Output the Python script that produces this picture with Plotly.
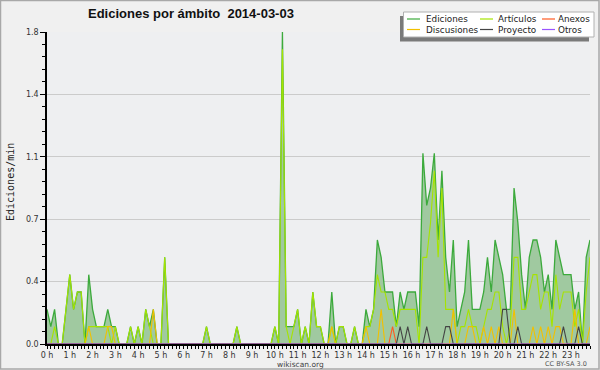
import plotly.graph_objects as go

# ---------------- data (edits per minute, 10-minute bins, 2014-03-03) ----------------
hour_labels = [f"{h} h" for h in range(24)]
hour_ticks = list(range(24))
times = [i / 6 for i in range(144)]  # hours of each 10-min bin

ediciones = [
    .2, .1, .2, 0, 0, .2, .4, .2, .3, .3,
    0, .4, .2, .1, .1, .1, .2, .1, .1, 0,
    0, 0, .1, 0, .1, 0, .2, .1, .2, 0,
    0, .5, 0, 0, 0, 0, 0, 0, 0, 0,
    0, 0, .1, 0, 0, 0, 0, 0, 0, 0,
    .1, 0, 0, 0, 0, 0, 0, 0, 0, 0,
    .1, 0, 1.8, .1, .1, .1, .2, 0, .1, 0,
    .3, .1, .1, 0, 0, .3, 0, .1, .1, 0,
    0, .1, 0, 0, .2, .1, .2, .6, .5, .3,
    .3, .3, .1, .3, .2, .3, .3, .3, .1, 1.1,
    .8, .9, 1.1, .6, 1.0, .5, .3, .6, .1, .2,
    .3, .6, .2, .2, .2, .3, .5, .3, .6, .5,
    .4, .2, .2, .9, .7, .4, .2, .5, .6, .6,
    .5, .3, .4, .2, .6, .5, .4, .4, .4, .2,
    .3, 0, .5, .6,
]

articulos = [
    0, 0, .1, 0, 0, .2, .4, .2, .3, .3,
    0, .1, .1, .1, .1, .1, .1, 0, .1, 0,
    0, 0, .1, 0, .1, 0, .2, .1, 0, 0,
    0, .5, 0, 0, 0, 0, 0, 0, 0, 0,
    0, 0, .1, 0, 0, 0, 0, 0, 0, 0,
    .1, 0, 0, 0, 0, 0, 0, 0, 0, 0,
    .1, 0, 1.7, .1, 0, .1, .2, 0, .1, 0,
    .3, .1, .1, 0, 0, .1, 0, .1, .1, 0,
    0, .1, 0, 0, .1, .1, .2, .4, .3, .3,
    .2, .2, .1, .2, .2, .2, .2, .2, 0, .5,
    .5, .7, 1.0, .5, .9, .2, .2, .2, 0, .1,
    .1, .2, .1, .1, 0, .1, .2, .2, .3, .3,
    .1, 0, .1, .5, .5, .2, .2, .3, .4, .4,
    .2, .3, .3, .1, .4, .2, .3, .3, .3, .1,
    .2, 0, .3, .5,
]

anexos = [0] * 91 + [.1] + [0] * 52

discusiones = [
    0, 0, 0, 0, 0, 0, 0, 0, 0, 0,
    0, .1, 0, 0, 0, 0, .1, .1, 0, 0,
    0, 0, 0, 0, 0, 0, 0, 0, .2, 0,
    0, 0, 0, 0, 0, 0, 0, 0, 0, 0,
    0, 0, 0, 0, 0, 0, 0, 0, 0, 0,
    0, 0, 0, 0, 0, 0, 0, 0, 0, 0,
    0, 0, 0, 0, 0, 0, 0, 0, 0, 0,
    0, 0, 0, 0, 0, .1, 0, 0, 0, 0,
    0, 0, 0, 0, .1, 0, 0, 0, .2, 0,
    0, 0, 0, 0, 0, 0, 0, 0, 0, 0,
    0, 0, 0, 0, 0, 0, 0, .2, 0, 0,
    0, .1, .1, 0, 0, .1, 0, .1, 0, .1,
    0, 0, 0, .2, 0, 0, 0, 0, .1, 0,
    .1, 0, .1, 0, .1, .1, 0, 0, 0, .2,
    0, 0, 0, .1,
]

proyecto = [
    0, 0, 0, 0, 0, 0, 0, 0, 0, 0,
    0, 0, 0, 0, 0, 0, 0, 0, 0, 0,
    0, 0, 0, 0, 0, 0, 0, 0, 0, 0,
    0, 0, 0, 0, 0, 0, 0, 0, 0, 0,
    0, 0, 0, 0, 0, 0, 0, 0, 0, 0,
    0, 0, 0, 0, 0, 0, 0, 0, 0, 0,
    0, 0, 0, 0, 0, 0, 0, 0, 0, 0,
    0, 0, 0, 0, 0, 0, 0, 0, 0, 0,
    0, 0, 0, 0, 0, 0, 0, 0, 0, 0,
    0, 0, 0, .1, 0, .1, 0, 0, 0, 0,
    .1, 0, 0, 0, 0, .1, .1, 0, 0, 0,
    0, 0, 0, 0, 0, 0, 0, 0, 0, 0,
    .2, .2, 0, 0, .1, 0, 0, 0, 0, 0,
    0, 0, 0, 0, 0, 0, .1, 0, 0, 0,
    .1, 0, 0, 0,
]

otros = [0] * 144

y_tickvals = [0, 0.36, 0.72, 1.08, 1.44, 1.8]
y_ticktext = ["0.0", "0.4", "0.7", "1.1", "1.4", "1.8"]

# ---------------- styles ----------------
series = [
    ("Ediciones", ediciones, "#3caa3c"),
    ("Artículos", articulos, "#a6e400"),
    ("Anexos", anexos, "#ff5a22"),
    ("Discusiones", discusiones, "#f2c000"),
    ("Proyecto", proyecto, "#444444"),
    ("Otros", otros, "#9955ff"),
]
FILL = "#a0c9a0"

W, H = 600, 370
ML, MR, MT, MB = 47, 10, 32, 26
PW, PH = W - ML - MR, H - MT - MB


def px(x):
    return (x - ML) / PW


def py(y):
    return (H - MB - y) / PH


fig = go.Figure()
for k, (name, vals, col) in enumerate(series):
    fig.add_trace(go.Scatter(
        x=times, y=vals, name=name, mode="lines",
        line=dict(color=col, width=1.3 if k == 0 else 1.1),
        fill="tozeroy" if k == 0 else None,
        fillcolor=FILL if k == 0 else None,
        showlegend=False, hoverinfo="skip",
    ))

shapes = []
annotations = []

# outer frame
shapes.append(dict(type="rect", xref="paper", yref="paper",
                   x0=px(0.5), x1=px(W - 1), y0=py(H - 1), y1=py(0.5),
                   line=dict(color="#a8a8a8", width=1.5), layer="above"))

# legend box with shadow
shapes.append(dict(type="rect", xref="paper", yref="paper",
                   x0=px(400), x1=px(589), y0=py(41.5), y1=py(16),
                   fillcolor="#7a7a7a", line=dict(width=0), layer="above"))
shapes.append(dict(type="rect", xref="paper", yref="paper",
                   x0=px(403.5), x1=px(594), y0=py(37), y1=py(12),
                   fillcolor="#ffffff", line=dict(color="#b0b0b0", width=1), layer="above"))

cols_x = [(407, 424), (480, 496), (542, 556)]
rows_y = [19, 29.5]
for k, (name, vals, col) in enumerate(series):
    c = k % 3
    r = k // 3
    lx, tx = cols_x[c]
    yy = rows_y[r]
    shapes.append(dict(type="line", xref="paper", yref="paper",
                       x0=px(lx), x1=px(lx + 13), y0=py(yy), y1=py(yy),
                       line=dict(color=col, width=1.2), layer="above"))
    annotations.append(dict(text=name, xref="paper", yref="paper",
                            x=px(tx), y=py(yy), xanchor="left", yanchor="middle",
                            showarrow=False,
                            font=dict(family="DejaVu Sans", size=8.8, color="#222222")))

# title
annotations.append(dict(text="<b>Ediciones por ámbito  2014-03-03</b>", xref="paper", yref="paper",
                        x=px(86), y=py(14), xanchor="left", yanchor="middle", showarrow=False,
                        font=dict(family="Liberation Sans", size=13, color="#111111")))
# y title
annotations.append(dict(text="Ediciones/min", xref="paper", yref="paper",
                        x=px(10), y=py(182), xanchor="center", yanchor="middle", showarrow=False,
                        textangle=-90,
                        font=dict(family="DejaVu Sans Mono", size=10, color="#222222")))
# footer
annotations.append(dict(text="wikiscan.org", xref="paper", yref="paper",
                        x=px(300.5), y=py(364), xanchor="center", yanchor="middle", showarrow=False,
                        font=dict(family="DejaVu Sans", size=7.5, color="#444444")))
annotations.append(dict(text="CC BY-SA 3.0", xref="paper", yref="paper",
                        x=px(589), y=py(364), xanchor="right", yanchor="middle", showarrow=False,
                        font=dict(family="DejaVu Sans", size=6.5, color="#555555")))

fig.update_layout(
    width=W, height=H,
    margin=dict(l=ML, r=MR, t=MT, b=MB),
    paper_bgcolor="#f0f0f0",
    plot_bgcolor="#eeeff1",
    shapes=shapes,
    annotations=annotations,
    showlegend=False,
)

fig.update_xaxes(
    range=[0, times[-1]],
    tickmode="array", tickvals=hour_ticks, ticktext=hour_labels,
    ticks="outside", ticklen=3, tickcolor="black", tickwidth=1,
    minor=dict(dtick=1 / 6, tick0=0, ticks="outside", ticklen=3, tickcolor="black", showgrid=False),
    showline=True, linecolor="black", linewidth=1.5,
    showgrid=False, zeroline=False,
    tickfont=dict(family="DejaVu Sans", size=8, color="#333333"),
    fixedrange=True,
)
fig.update_yaxes(
    range=[0, 1.8],
    tickmode="array", tickvals=y_tickvals, ticktext=y_ticktext,
    ticks="outside", ticklen=5, tickcolor="black", tickwidth=1,
    minor=dict(dtick=0.072, tick0=0, ticks="outside", ticklen=3, tickcolor="black", showgrid=False),
    showline=True, linecolor="black", linewidth=1.5,
    showgrid=True, gridcolor="#cbcbcb", gridwidth=1, zeroline=False,
    tickfont=dict(family="DejaVu Sans", size=8, color="#333333"),
    fixedrange=True,
)

fig.write_html("out.html",
               config={"displayModeBar": False},
               post_script="document.body.style.margin='0';document.body.style.overflow='hidden';")
